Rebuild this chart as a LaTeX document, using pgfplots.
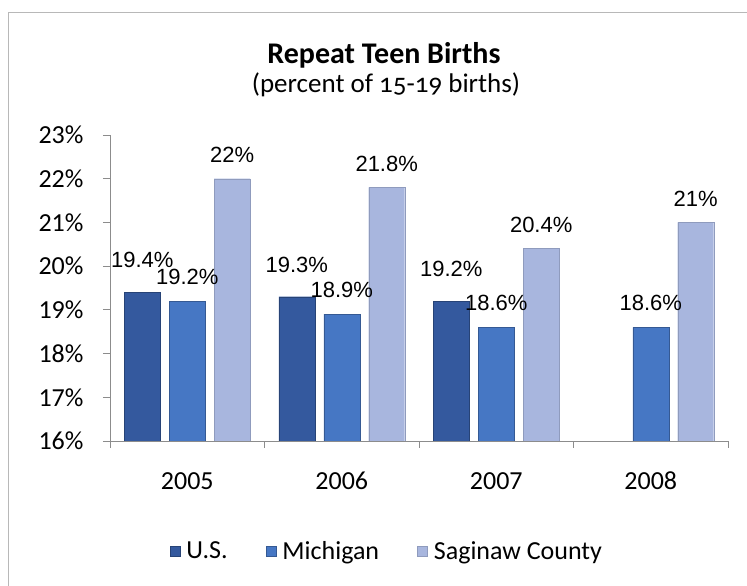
\documentclass[border=0pt]{standalone}
\usepackage{pgfplots}
\pgfplotsset{compat=1.18}
\usepackage{fontspec}
\setmainfont{Carlito}
\newfontfamily\labfont{Liberation Sans}
\definecolor{cUS}{HTML}{34599E}
\definecolor{cMI}{HTML}{4677C4}
\definecolor{cSC}{HTML}{A8B6DE}
\definecolor{axisgray}{HTML}{8C8C8C}
\begin{document}
\begin{tikzpicture}[x=1pt,y=1pt]
\useasboundingbox (0,0) rectangle (747,586);
\draw[black!28, line width=0.8pt] (8,0) -- (8,574) -- (747,574);
\node[anchor=base, font=\fontsize{30}{36}\selectfont\bfseries] at (384,522) {Repeat Teen Births};
\node[anchor=base, font=\fontsize{27}{32}\selectfont\addfontfeatures{Numbers=OldStyle}] at (386,493) {(percent of 15-19 births)};
\begin{axis}[
  at={(110pt,145pt)}, anchor=south west, scale only axis,
  width=618pt, height=306pt,
  ybar, ymin=16, ymax=23, xmin=-0.5, xmax=3.5,
  ytick={16,17,18,19,20,21,22,23},
  yticklabel={\pgfmathprintnumber{\tick}\%},
  xtick={0,1,2,3}, xticklabels={2005,2006,2007,2008},
  minor xtick={-0.5,0.5,1.5,2.5,3.5},
  axis x line*=bottom, axis y line*=left,
  axis line style={axisgray, line width=0.8pt, -},
  tick align=outside,
  major tick length=7pt, minor tick length=7pt,
  major x tick style={draw=none},
  minor x tick style={axisgray, line width=0.8pt},
  ytick style={axisgray, line width=0.8pt},
  /pgf/number format/assume math mode=true,
  yticklabel style={font=\fontsize{26}{30}\selectfont, xshift=-16pt},
  xticklabel style={font=\fontsize{26}{30}\selectfont, yshift=-21pt, text height=17pt, text depth=0pt},
  bar width=0.233,
  nodes near coords={\pgfmathprintnumber{\pgfplotspointmeta}\%},
  every node near coord/.append style={font=\labfont\fontsize{22}{26}\selectfont, anchor=center, yshift=24pt, text=black},
  legend style={at={(0.448,-0.359)}, anchor=center, draw=none, fill=none,
    legend columns=3, font=\fontsize{26}{30}\selectfont,
    /tikz/every even column/.append style={column sep=36pt}},
  legend image code/.code={\fill[#1] (0pt,-5pt) rectangle (10pt,5pt);},
  legend cell align=left,
]
\addplot[fill=cUS, draw=cUS!75!black, bar shift=-0.291,
  every node near coord/.append style={yshift=8pt}]
  coordinates {(0,19.4) (1,19.3) (2,19.2)};
\addplot[fill=cMI, draw=cMI!75!black, bar shift=0]
  coordinates {(0,19.2) (1,18.9) (2,18.6) (3,18.6)};
\addplot[fill=cSC, draw=cSC!85!black, bar shift=0.291]
  coordinates {(0,22) (1,21.8) (2,20.4) (3,21)};
\legend{\,U.S.,\,Michigan,\,Saginaw County}
\end{axis}
\end{tikzpicture}
\end{document}
